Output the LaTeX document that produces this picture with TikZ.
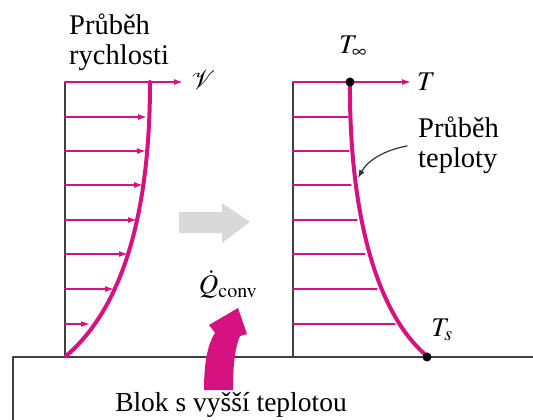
\documentclass[tikz,border=0pt]{standalone}
\usepackage{mathptmx}
\usepackage{fontspec}
\setmainfont{Liberation Serif}
\usepackage{xcolor}
\usetikzlibrary{arrows.meta}
\usetikzlibrary{positioning,calc}
\definecolor{prof}{RGB}{214,18,128}
\definecolor{warm}{RGB}{217,217,217}

\begin{document}
\begin{tikzpicture}[x=1pt,y=-1pt,>=Latex,line join=round,line cap=round]
% -------------------------------------------------
% Styles
% -------------------------------------------------
\tikzset{
  axis/.style={draw=black!75, line width=1.3pt},
  profile/.style={draw=prof, line width=4pt},
  vecarrow/.style={draw=prof, line width=1.4pt, -{Latex[length=9pt,width=6pt]}},
  level/.style={draw=prof, line width=1.4pt},
  label/.style={font=\fontsize{27}{30}\selectfont, inner sep=0pt},
  biglabel/.style={font=\fontsize{28.5}{30}\selectfont, inner sep=0pt},
  dotstyle/.style={circle, fill=black, inner sep=0pt, minimum size=9pt},
}
\useasboundingbox (0,0) rectangle (533,420);
% -------------------------------------------------
% block surface
% -------------------------------------------------
\draw[axis] (13,420) -- (13,357) -- (533,357);
\node[label, font=\fontsize{27.5}{30}\selectfont] (blok) at (231,405) {Blok s vyšší teplotou};
% -------------------------------------------------
% velocity profile
% -------------------------------------------------
\node[biglabel, anchor=base west, align=left] (rlab) at (69,65) {Průběh\\rychlosti};
\draw[axis] (65,357) -- (65,82);
\draw[vecarrow] (65,82) -- (183,82) coordinate (vend);
\node[label, anchor=west] (vsym) at (191,80) {$\mathcal{V}$};
\foreach \y/\x in {117/147,151/146,185/143,220/137,254/128,289/114,324/90}{
  \draw[vecarrow] (65,\y) -- (\x,\y);
}
\draw[profile] (150,82) .. controls (150,220) and (120,310) .. (66,356);
% -------------------------------------------------
% temperature profile
% -------------------------------------------------
\draw[axis] (293,357) -- (293,82);
\draw[vecarrow] (293,82) -- (411,82) coordinate (tend);
\node[label, anchor=west] (tsym) at (417,82) {$T$};
\foreach \y/\x in {117/348,151/349,185/351,220/357,254/365,289/377,324/395}{
  \draw[level] (293,\y) -- (\x,\y);
}
\draw[profile] (350,82) .. controls (349,200) and (372,310) .. (427,356);
\node[dotstyle] (tinf) at (350,82) {};
\node[dotstyle] (ts) at (427,357) {};
\node[label] (tinflab) at (353,47) {$T_\infty$};
\node[label] (tslab) at (442,330) {$T_s$};
\node[biglabel, anchor=base west, align=left] (tlab) at (418,167) {Průběh\\teploty};
\coordinate (tcurve) at (358,178);
\draw[black!80, line width=1.2pt, -{Latex[length=8pt,width=6pt]}]
  (407,146) .. controls (385,150) and (368,160) .. (tcurve);
% -------------------------------------------------
% flow and heat arrows
% -------------------------------------------------
\fill[warm] (179,212) -- (222,212) -- (222,203) -- (250,222) -- (222,243)
  -- (222,233) -- (179,233) -- cycle;
\node[label] (qlab) at (228,284) {$\dot{Q}_{\mathrm{conv}}$};
\fill[prof] (204,390) .. controls (204,365) and (207,345) .. (215,333)
  -- (209,325) -- (238,308) -- (247,334) -- (240,336)
  .. controls (234,350) and (233,370) .. (233,390) -- cycle;

\end{tikzpicture}
\end{document}
